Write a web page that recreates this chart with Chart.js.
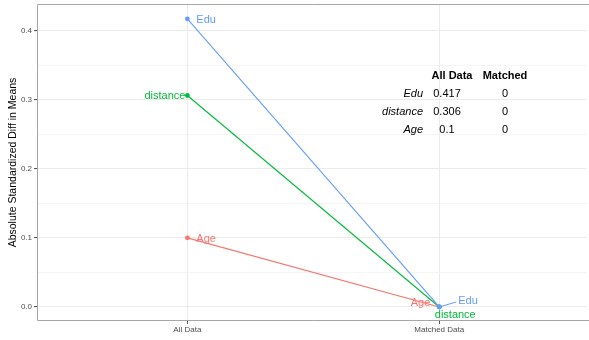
<!DOCTYPE html>
<html>
<head>
<meta charset="utf-8">
<script src="https://cdn.jsdelivr.net/npm/chart.js@4/dist/chart.umd.min.js"></script>
<style>
  html, body { margin: 0; padding: 0; background: #fff; overflow: hidden; }
  #wrap { width: 589px; height: 340px; position: relative; }
</style>
</head>
<body>
<div id="wrap"><canvas id="c" width="589" height="340"></canvas></div>
<script>
// Sample columns on the x axis
const categories = ['All Data', 'Matched Data'];
// Covariates, one line each
const variables = ['Edu', 'distance', 'Age'];
// Absolute standardized difference in means per sample
const allData = [0.417, 0.306, 0.1];
const matched = [0, 0, 0];
// Displayed table values
const allDataText = ['0.417', '0.306', '0.1'];
const matchedText = ['0', '0', '0'];
// Y axis tick labels
const yTickValues = [0, 0.1, 0.2, 0.3, 0.4];
const yTickLabels = ['0.0', '0.1', '0.2', '0.3', '0.4'];

const colors = { Edu: '#619CFF', distance: '#00BA38', Age: '#F8766D' };
const FONT = 'Helvetica, "Liberation Sans", Arial, sans-serif';

const datasets = variables.map((v, i) => ({
  label: v,
  data: [{ x: 1, y: allData[i] }, { x: 2, y: matched[i] }],
  borderColor: colors[v],
  backgroundColor: colors[v],
  borderWidth: 1.1,
  pointRadius: 2.4,
  pointHoverRadius: 2.4,
  pointBorderWidth: 0,
  tension: 0
}));

// Panel border (top, left, bottom) and labels near the points
const decorations = {
  id: 'decorations',
  beforeDatasetsDraw(chart) {
    const { ctx, chartArea: a } = chart;
    ctx.save();
    ctx.strokeStyle = '#a6a6a6';
    ctx.lineWidth = 1;
    ctx.beginPath();
    ctx.moveTo(a.right + 5, a.top + 0.5);
    ctx.lineTo(a.left + 0.5, a.top + 0.5);
    ctx.lineTo(a.left + 0.5, a.bottom - 0.5);
    ctx.lineTo(a.right + 5, a.bottom - 0.5);
    ctx.stroke();
    ctx.restore();
  },
  afterDatasetsDraw(chart) {
    const { ctx, scales: { x, y } } = chart;
    ctx.save();
    ctx.font = '11px ' + FONT;
    ctx.textBaseline = 'middle';
    // Labels at the "All Data" column
    variables.forEach((v, i) => {
      const px = x.getPixelForValue(1), py = y.getPixelForValue(allData[i]);
      ctx.fillStyle = colors[v];
      if (v === 'distance') {
        ctx.textAlign = 'right';
        ctx.fillText(v, px - 2, py);
      } else {
        ctx.textAlign = 'left';
        ctx.fillText(v, px + 9, py + 1);
      }
    });
    // Labels at the "Matched Data" column (repelled apart)
    const mx = x.getPixelForValue(2);
    variables.forEach((v, i) => {
      const py = y.getPixelForValue(matched[i]);
      ctx.fillStyle = colors[v];
      if (v === 'Edu') {
        ctx.strokeStyle = colors[v];
        ctx.lineWidth = 1;
        ctx.beginPath();
        ctx.moveTo(mx, py);
        ctx.lineTo(mx + 17, py - 5);
        ctx.stroke();
        ctx.textAlign = 'left';
        ctx.fillText(v, mx + 19, py - 6);
      } else if (v === 'distance') {
        ctx.textAlign = 'center';
        ctx.fillText(v, mx + 16, py + 8);
      } else {
        ctx.textAlign = 'right';
        ctx.fillText(v, mx - 9, py - 4);
      }
    });
    ctx.restore();
  }
};

// Summary table drawn inside the panel
const summaryTable = {
  id: 'summaryTable',
  afterDatasetsDraw(chart) {
    const { ctx } = chart;
    ctx.save();
    ctx.fillStyle = '#000';
    ctx.textBaseline = 'middle';
    ctx.font = 'bold 11px ' + FONT;
    ctx.textAlign = 'center';
    ctx.fillText('All Data', 452, 76);
    ctx.fillText('Matched', 505, 76);
    variables.forEach((v, i) => {
      const ry = 94 + i * 18;
      ctx.font = 'italic 11px ' + FONT;
      ctx.textAlign = 'right';
      ctx.fillText(v, 423, ry);
      ctx.font = '11px ' + FONT;
      ctx.textAlign = 'center';
      ctx.fillText(allDataText[i], 447, ry);
      ctx.fillText(matchedText[i], 505, ry);
    });
    ctx.restore();
  }
};

const isMajor = v => yTickValues.some(t => Math.abs(t - v) < 1e-9);

new Chart(document.getElementById('c'), {
  type: 'line',
  data: { datasets },
  plugins: [decorations, summaryTable],
  options: {
    responsive: false,
    animation: false,
    devicePixelRatio: 1,
    layout: { padding: { top: 4, left: 7, right: 0, bottom: 0 } },
    plugins: { legend: { display: false }, tooltip: { enabled: false } },
    scales: {
      x: {
        type: 'linear',
        min: 0.403,
        max: 2.585,
        border: { display: false },
        afterBuildTicks(scale) {
          scale.ticks = [{ value: 1 }, { value: 2 }];
        },
        afterFit(scale) {
          scale.height = 19;
          scale.paddingLeft = 0;
          scale.paddingRight = 0;
        },
        ticks: {
          autoSkip: false,
          maxRotation: 0,
          padding: 1,
          color: '#4d4d4d',
          font: { size: 8, family: FONT },
          callback: (v) => categories[Math.round(v) - 1]
        },
        grid: {
          color: '#ebebeb',
          lineWidth: 1,
          drawTicks: true,
          tickLength: 3,
          tickColor: '#555'
        }
      },
      y: {
        type: 'linear',
        min: -0.0203,
        max: 0.4384,
        border: { display: false },
        afterBuildTicks(scale) {
          const t = [];
          for (let k = 0; k <= 8; k++) t.push({ value: Math.round(k * 0.05 * 100) / 100 });
          scale.ticks = t;
        },
        afterFit(scale) {
          scale.width = 30;
          scale.paddingTop = 0;
          scale.paddingBottom = 0;
        },
        title: {
          display: true,
          text: 'Absolute Standardized Diff in Means',
          color: '#000',
          font: { size: 10.5, family: FONT },
          padding: { top: 0, bottom: 0 }
        },
        ticks: {
          autoSkip: false,
          padding: 2,
          color: '#4d4d4d',
          font: { size: 8, family: FONT },
          callback: (v) => {
            const idx = yTickValues.findIndex(t => Math.abs(t - v) < 1e-9);
            return idx >= 0 ? yTickLabels[idx] : '';
          }
        },
        grid: {
          color: (c) => isMajor(c.tick.value) ? '#ebebeb' : '#f3f3f3',
          lineWidth: (c) => isMajor(c.tick.value) ? 1.1 : 0.8,
          drawTicks: true,
          tickLength: 3,
          tickColor: (c) => isMajor(c.tick.value) ? '#555' : 'rgba(0,0,0,0)'
        }
      }
    }
  }
});
</script>
</body>
</html>
